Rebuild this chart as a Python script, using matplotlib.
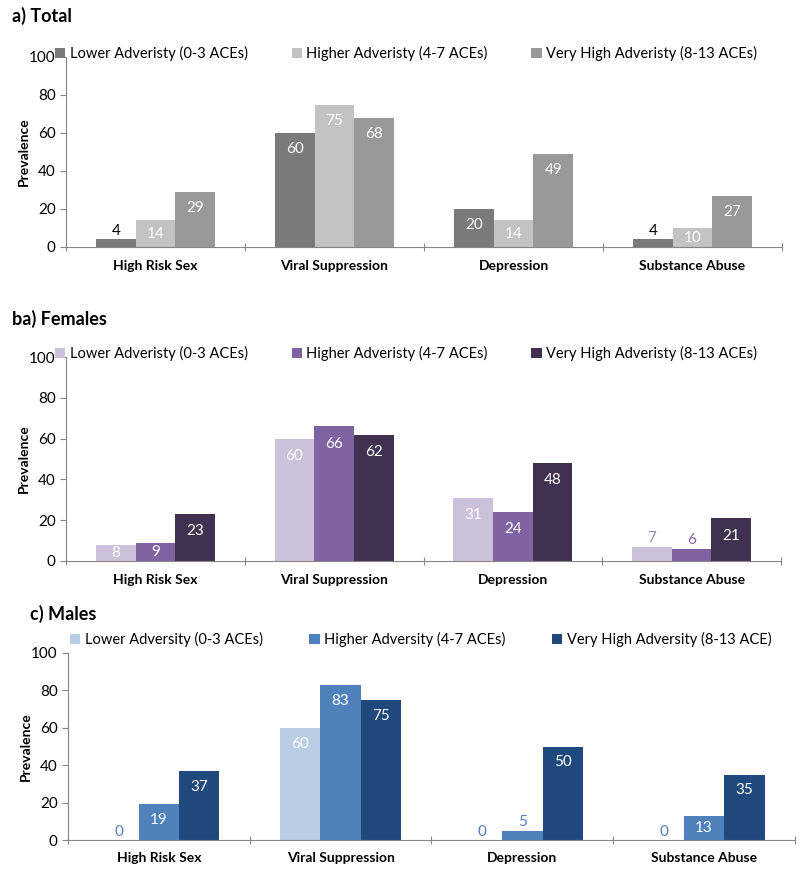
import matplotlib
matplotlib.use("Agg")
import matplotlib.pyplot as plt
import numpy as np

plt.rcParams['font.family'] = ['Lato', 'DejaVu Sans']

categories = ["High Risk Sex", "Viral Suppression", "Depression", "Substance Abuse"]

# a) Total
total_lower = [4, 60, 20, 4]
total_higher = [14, 75, 14, 10]
total_veryhigh = [29, 68, 49, 27]
total_legend = ["Lower Adveristy (0-3 ACEs)", "Higher Adveristy (4-7 ACEs)", "Very High Adveristy (8-13 ACEs)"]

# ba) Females
fem_lower = [8, 60, 31, 7]
fem_higher = [9, 66, 24, 6]
fem_veryhigh = [23, 62, 48, 21]
fem_legend = ["Lower Adveristy (0-3 ACEs)", "Higher Adveristy (4-7 ACEs)", "Very High Adveristy (8-13 ACEs)"]

# c) Males
male_lower = [0, 60, 0, 0]
male_higher = [19, 83, 5, 13]
male_veryhigh = [37, 75, 50, 35]
male_legend = ["Lower Adversity (0-3 ACEs)", "Higher Adversity (4-7 ACEs)", "Very High Adversity (8-13 ACE)"]

yticks = [0, 20, 40, 60, 80, 100]

fig = plt.figure(figsize=(8, 8.73), dpi=100)


def draw_panel(rect, title, title_xy, series, labels, colors, out_colors, leg_anchor, colspace):
    ax = fig.add_axes(rect)
    x = np.arange(len(categories)) + 0.5
    w = 0.222
    handles = []
    for i, vals in enumerate(series):
        xs = x + (i - 1) * w
        bars = ax.bar(xs, vals, width=w, color=colors[i], label=labels[i])
        handles.append(bars)
        for xx, v in zip(xs, vals):
            if v >= 8:
                yc = v - 8.5 if v >= 17 else v / 2
                ax.text(xx, yc, str(v), ha='center', va='center', color='white', fontsize=11)
            else:
                ax.annotate(str(v), (xx, v), xytext=(0, 1), textcoords='offset points',
                            ha='center', va='bottom', color=out_colors[i], fontsize=11)
    ax.set_xlim(0, 4)
    ax.set_ylim(0, 100)
    ax.set_yticks(yticks)
    ax.tick_params(axis='y', labelsize=11, colors='#868686', labelcolor='black', length=4)
    ax.set_xticks([0, 1, 2, 3, 4])
    ax.set_xticklabels([])
    ax.set_xticks(x, minor=True)
    ax.set_xticklabels(categories, minor=True, fontweight='bold', fontsize=10)
    ax.tick_params(axis='x', which='major', direction='inout', length=6, colors='#868686')
    ax.tick_params(axis='x', which='minor', length=0, pad=9)
    for s in ['top', 'right']:
        ax.spines[s].set_visible(False)
    for s in ['left', 'bottom']:
        ax.spines[s].set_color('#868686')
    ax.set_ylabel("Prevalence", fontweight='bold', fontsize=10)
    # label anchor is its right edge, keep centre near x=22px
    ax.yaxis.set_label_coords(-36 / (rect[2] * 800), 0.5)
    ax.legend(handles=handles, ncol=3, frameon=False, loc='lower left',
              bbox_to_anchor=leg_anchor, fontsize=10.5, handlelength=0.7, handleheight=0.7,
              handletextpad=0.3, columnspacing=colspace, borderaxespad=0, borderpad=0)
    fig.text(title_xy[0], title_xy[1], title, fontweight='bold', fontsize=13, va='center')
    return ax


draw_panel([66 / 800, 1 - 247 / 873, 716 / 800, 190 / 873], "a) Total", (12 / 800, 1 - 16 / 873),
           [total_lower, total_higher, total_veryhigh], total_legend,
           ['#7a7a7a', '#c3c3c3', '#999999'], ['black', 'black', 'black'], (-0.015, 0.98), 3.0)

draw_panel([66 / 800, 1 - 561 / 873, 715 / 800, 204 / 873], "ba) Females", (12 / 800, 1 - 319 / 873),
           [fem_lower, fem_higher, fem_veryhigh], fem_legend,
           ['#ccc1da', '#8064a2', '#403151'], ['#9b8bb5', '#8064a2', '#403151'], (-0.015, 0.98), 3.0)

draw_panel([68 / 800, 1 - 840 / 873, 727 / 800, 187 / 873], "c) Males", (30 / 800, 1 - 614 / 873),
           [male_lower, male_higher, male_veryhigh], male_legend,
           ['#b9cde5', '#4f81bd', '#1f497d'], ['#4f81bd', '#4f81bd', '#1f497d'], (0.003, 1.03), 3.2)

fig.savefig("out.png", dpi=100)
